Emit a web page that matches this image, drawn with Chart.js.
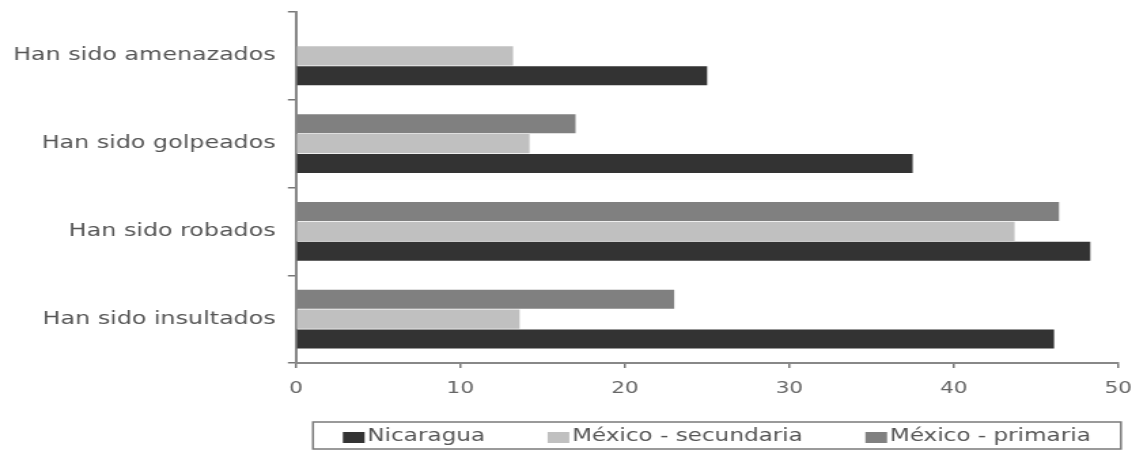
<!DOCTYPE html>
<html lang="es">
<head>
<meta charset="UTF-8" />
<title>Victimización escolar</title>
<script src="https://cdn.jsdelivr.net/npm/chart.js"></script>
<style>
  html, body { margin: 0; padding: 0; background: #fff; overflow: hidden; }
  /* the source image is stretched sideways: draw narrow, then widen */
  .wrap { width: 844px; height: 451px; transform: scaleX(1.359); transform-origin: 0 0; }
</style>
</head>
<body>
<div class="wrap"><canvas id="chart"></canvas></div>
<script>
const categories = ['Han sido amenazados', 'Han sido golpeados', 'Han sido robados', 'Han sido insultados'];
const nicaragua = [25.0, 37.5, 48.3, 46.1];
const mexicoSecundaria = [13.2, 14.2, 43.7, 13.6];
const mexicoPrimaria = [null, 17.0, 46.4, 23.0];
const xTicks = [0, 10, 20, 30, 40, 50];

Chart.defaults.font.family = '"DejaVu Sans", sans-serif';

// legend drawn inside a framed box, like the original
const boxedLegend = {
  id: 'boxedLegend',
  afterDraw(chart) {
    const { ctx, chartArea } = chart;
    const left = chartArea.left + 12.5;
    const right = chartArea.right + 2;
    const top = chartArea.bottom + 59;
    ctx.save();
    ctx.strokeStyle = '#7a7a7a';
    ctx.lineWidth = 1.5;
    ctx.strokeRect(left, top, right - left, 27);
    ctx.font = '17px "DejaVu Sans"';
    ctx.textBaseline = 'alphabetic';
    let x = left + 22;
    const items = chart.data.datasets.slice().reverse();
    items.forEach(ds => {
      ctx.fillStyle = ds.backgroundColor;
      ctx.fillRect(x, top + 10, 16, 11);
      ctx.fillStyle = '#555';
      ctx.fillText(ds.label, x + 18, top + 19);
      x += 18 + ctx.measureText(ds.label).width + 46;
    });
    ctx.restore();
  }
};

new Chart(document.getElementById('chart'), {
  type: 'bar',
  data: {
    labels: categories,
    datasets: [
      { label: 'México - primaria', data: mexicoPrimaria, backgroundColor: '#808080' },
      { label: 'México - secundaria', data: mexicoSecundaria, backgroundColor: '#c0c0c0' },
      { label: 'Nicaragua', data: nicaragua, backgroundColor: '#333333' }
    ]
  },
  options: {
    indexAxis: 'y',
    responsive: true,
    maintainAspectRatio: false,
    animation: false,
    categoryPercentage: 0.68,
    barPercentage: 0.96,
    layout: { padding: { top: 12, right: 14.7, left: 0, bottom: 0 } },
    plugins: {
      legend: { display: false },
      tooltip: { enabled: false }
    },
    scales: {
      x: {
        min: 0,
        max: 50,
        afterBuildTicks: (s) => { s.ticks = xTicks.map(v => ({ value: v })); },
        afterFit: (s) => { s.height = 88; },
        grid: { drawOnChartArea: false, tickLength: 5, color: '#777', lineWidth: 1.5 },
        border: { color: '#888', width: 2 },
        ticks: { color: '#666', font: { size: 16 }, padding: 11 }
      },
      y: {
        afterFit: (s) => { s.width = 217.8; s.paddingTop = 0; s.paddingBottom = 0; },
        grid: { drawOnChartArea: false, offset: true, tickLength: 6, color: '#777', lineWidth: 1.5 },
        border: { color: '#888', width: 2 },
        ticks: { color: '#555', font: { size: 17.5 }, padding: 9 }
      }
    }
  },
  plugins: [boxedLegend]
});
</script>
</body>
</html>
